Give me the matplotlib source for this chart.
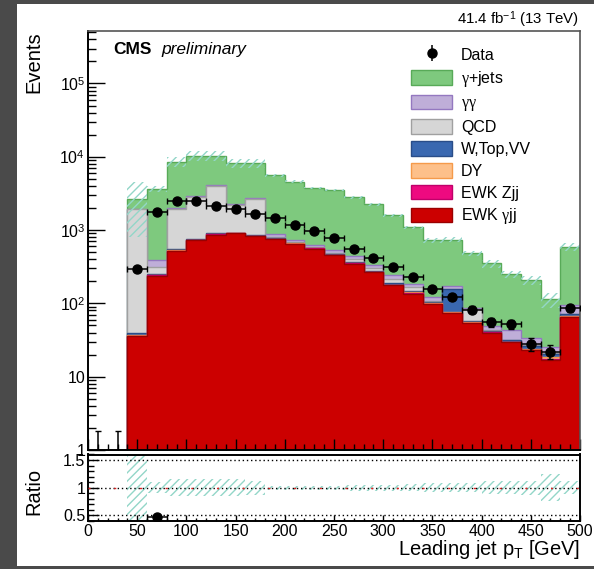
import numpy as np
import matplotlib
matplotlib.use('Agg')
import matplotlib.pyplot as plt
from matplotlib.patches import Patch, Rectangle
from matplotlib.ticker import MultipleLocator, FixedLocator, FuncFormatter, LogLocator, NullFormatter

plt.rcParams['font.family'] = ['Liberation Sans', 'DejaVu Sans']
plt.rcParams['mathtext.fontset'] = 'custom'
plt.rcParams['mathtext.rm'] = 'Liberation Sans'
plt.rcParams['mathtext.it'] = 'Liberation Serif'
plt.rcParams['mathtext.bf'] = 'Liberation Sans:bold'
plt.rcParams['hatch.linewidth'] = 1.0

# leading jet pT, 20 GeV bins from 0 to 500
edges = np.arange(0, 520, 20)

data = np.array([0, 0, 292, 1740, 2510, 2500, 2150, 1960, 1660, 1450, 1170,
                 975, 785, 550, 418, 315, 230, 155, 122, 82, 55, 52, 28, 22, 86])

ewk_gjj = np.array([0, 0, 36, 240, 520, 730, 870, 900, 830, 760, 650, 560, 455,
                    350, 268, 177, 136, 99, 74, 54, 40, 29.5, 23, 17, 65])
ewk_zjj = np.array([0, 0, 0.3, 1, 2, 2, 2, 2, 2, 2, 2, 2, 1, 1, 1, 1, 1, 0.5,
                    0.5, 0.3, 0.3, 0.2, 0.2, 0.3, 0.5])
dy = np.array([0, 0, 1, 3, 5, 6, 6, 15, 8, 5, 5, 4, 4, 4, 3, 3, 5, 1, 1, 2,
               0.5, 0.5, 0.5, 1.5, 1])
wtopvv = np.array([0, 0, 2, 5, 20, 15, 25, 10, 12, 15, 12, 10, 12, 10, 8, 6, 4,
                   4, 83, 2, 1, 1, 2.5, 1.5, 5])
qcd = np.array([0, 0, 1880, 66, 1410, 2100, 3150, 1270, 1800, 30, 20, 15, 20,
                40, 20, 25, 20, 3, 1, 25, 1, 0.5, 0.5, 0.5, 1])
gg = np.array([0, 0, 5, 75, 60, 80, 60, 60, 80, 60, 50, 40, 50, 35, 31, 30, 20,
               15, 12, 3, 6, 11, 6.5, 4.5, 24])
gjets = np.array([0, 0, 740, 3260, 6500, 7470, 6290, 5940, 5470, 4700, 3860,
                  3100, 3000, 2360, 1920, 1358, 900, 608, 570, 394, 302, 207,
                  174, 88, 493])

# relative uncertainty on the total prediction
unc = np.array([0, 0, 0.70, 0.10, 0.15, 0.15, 0.15, 0.15, 0.13, 0.04, 0.04,
                0.04, 0.04, 0.05, 0.05, 0.05, 0.06, 0.08, 0.08, 0.08, 0.12,
                0.12, 0.13, 0.24, 0.12])

# upper Poisson error for empty bins
zero_up = 1.84

labels = [r'EWK $\gamma$jj', 'EWK Zjj', 'DY', 'W,Top,VV', 'QCD',
          r'$\gamma\gamma$', r'$\gamma$+jets']
fills = ['#cc0000', '#ee0a80', '#fdc08a', '#3a68b0', '#d6d6d6', '#bfaed8', '#7ec97e']
lines = ['#9a0000', '#c0006a', '#f59a4a', '#2a4d88', '#a0a0a0', '#9478c0', '#58aa58']
hatch_col = '#93d6c8'

comps = np.array([ewk_gjj, ewk_zjj, dy, wtopvv, qcd, gg, gjets])
cum = np.cumsum(comps, axis=0)
total = cum[-1]
centers = 0.5 * (edges[1:] + edges[:-1])
halfw = 0.5 * np.diff(edges)

fig = plt.figure(figsize=(5.94, 5.69), dpi=100, facecolor='white')
# dark frame on the left, top and bottom of the canvas
W, H = 594, 569
for x0, y0, w, h in [(0, 0, 17, H), (0, H - 4, W, 4), (0, 0, W, 3)]:
    fig.patches.append(Rectangle((x0 / W, y0 / H), w / W, h / H,
                                 transform=fig.transFigure, facecolor='#4a4a4a',
                                 edgecolor='none'))

ax = fig.add_axes([88 / W, 119 / H, 492 / W, 419 / H])
axr = fig.add_axes([88 / W, 48 / H, 492 / W, 66.5 / H])

# stack drawn as cumulative histograms, largest first
for i in reversed(range(len(comps))):
    ax.stairs(cum[i], edges, baseline=0, fill=True, facecolor=fills[i],
              edgecolor=lines[i], linewidth=1.0)

ax.stairs(total * (1 + unc), edges, baseline=total * (1 - unc), fill=True,
          facecolor='none', edgecolor=hatch_col, hatch='////', linewidth=0)

nz = data > 0
ax.errorbar(centers[nz], data[nz], xerr=halfw[nz], yerr=np.sqrt(data[nz]),
            fmt='o', color='k', ms=6.5, lw=1.1, capsize=2.5, zorder=5)
ax.errorbar(centers[~nz], data[~nz],
            yerr=[np.zeros((~nz).sum()), np.full((~nz).sum(), zero_up)],
            fmt='none', ecolor='k', lw=1.1, capsize=2.5, zorder=5)

ax.set_yscale('log', nonpositive='clip')
ax.set_xlim(edges[0], edges[-1])
ax.set_ylim(1, 5.2e5)

def log_fmt(v, pos):
    if v < 50:
        return '%d' % round(v)
    return r'$10^{%d}$' % round(np.log10(v))

ax.yaxis.set_major_locator(LogLocator(base=10, numticks=10))
ax.yaxis.set_major_formatter(FuncFormatter(log_fmt))
ax.yaxis.set_minor_locator(LogLocator(base=10, subs=np.arange(2, 10), numticks=20))
ax.yaxis.set_minor_formatter(NullFormatter())
ax.xaxis.set_major_locator(MultipleLocator(50))
ax.xaxis.set_minor_locator(MultipleLocator(10))
ax.tick_params(axis='both', which='both', direction='in', top=False, right=False,
               labelbottom=False, labelsize=11.5, pad=2)
ax.tick_params(axis='y', which='major', length=12, width=1)
ax.tick_params(axis='y', which='minor', length=6, width=1)
ax.tick_params(axis='x', which='major', length=8, width=1)
ax.tick_params(axis='x', which='minor', length=4, width=1)
for s in ['left', 'bottom']:
    ax.spines[s].set_linewidth(1.4)
for s in ['top', 'right']:
    ax.spines[s].set_color('#555555')
    ax.spines[s].set_linewidth(1.2)

ax.set_ylabel('Events', fontsize=14.5, loc='top')
ax.yaxis.set_label_coords(-0.09, 1.0)

ax.text(0.051, 0.945, 'CMS', transform=ax.transAxes, fontsize=12.5,
        fontweight='bold', va='baseline')
ax.text(0.150, 0.945, 'preliminary', transform=ax.transAxes, fontsize=12.5,
        style='italic', va='baseline')
ax.text(0.998, 1.017, r'41.4 fb$^{-1}$ (13 TeV)', transform=ax.transAxes,
        fontsize=10.8, ha='right', va='baseline')

# legend
data_handle = ax.errorbar([], [], yerr=[], fmt='o', color='k', ms=6.5,
                          lw=1.1, capsize=2.5)
handles = [data_handle] + [Patch(facecolor=fills[i], edgecolor=lines[i], lw=1)
                           for i in reversed(range(len(comps)))]
leg_labels = ['Data'] + labels[::-1]
ax.legend(handles, leg_labels, loc='upper left', bbox_to_anchor=(0.656, 0.962),
          frameon=False, fontsize=11.5, handlelength=2.6, handleheight=1.05,
          labelspacing=0.37, handletextpad=0.55, borderpad=0, borderaxespad=0)

# ratio panel
band_unc = np.where(total > 0, unc, 0)
axr.stairs(1 + band_unc, edges, baseline=1 - band_unc, fill=True,
           facecolor='none', edgecolor=hatch_col, hatch='////', linewidth=0)
for lvl in [0.5, 1.0, 1.5]:
    axr.axhline(lvl, color='k', lw=1.0, ls=(0, (1, 2)), zorder=2)
axr.axhline(1.0, color='#dd2222', lw=1.0, ls=(0, (1.5, 17)), zorder=3)

m = nz & (total > 0)
ratio = data[m] / total[m]
axr.errorbar(centers[m], ratio, xerr=halfw[m], yerr=np.sqrt(data[m]) / total[m],
             fmt='o', color='k', ms=6.5, lw=1.1, capsize=2.5, zorder=5)

axr.set_xlim(edges[0], edges[-1])
axr.set_ylim(0.4, 1.6)
axr.yaxis.set_major_locator(FixedLocator([0.5, 1.0, 1.5]))
axr.yaxis.set_major_formatter(FuncFormatter(lambda v, p: '%g' % v))
axr.yaxis.set_minor_locator(MultipleLocator(0.1))
axr.xaxis.set_major_locator(MultipleLocator(50))
axr.xaxis.set_minor_locator(MultipleLocator(10))
axr.tick_params(axis='both', which='both', direction='in', top=False,
                right=False, labelsize=11.5, pad=2)
axr.tick_params(axis='y', which='major', length=8, width=1)
axr.tick_params(axis='y', which='minor', length=4, width=1)
axr.tick_params(axis='x', which='major', length=4, width=1)
axr.tick_params(axis='x', which='minor', length=2, width=1)
for s in axr.spines.values():
    s.set_linewidth(1.4)

axr.set_ylabel('Ratio', fontsize=14.5)
axr.yaxis.set_label_coords(-0.09, 0.45)
axr.set_xlabel(r'Leading jet p$_{\mathrm{T}}$ [GeV]', fontsize=14.5, loc='right')
axr.xaxis.set_label_coords(1.0, -0.25)

fig.savefig('out.png', dpi=100)
